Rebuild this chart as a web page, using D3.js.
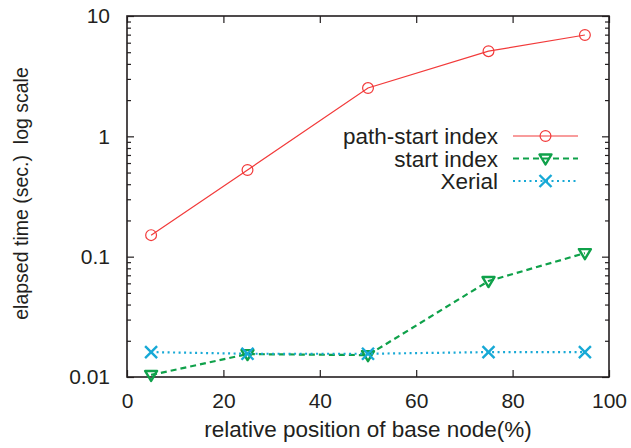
<!DOCTYPE html>
<html>
<head>
<meta charset="utf-8">
<script src="https://cdn.jsdelivr.net/npm/d3@7"></script>
<style>
  body { margin: 0; background: #fff; }
  text { font-family: "Liberation Sans", Arial, sans-serif; fill: #231f20; }
</style>
</head>
<body>
<div id="chart"></div>
<script>
// relative position of base node (%)
const positions = [5, 25, 50, 75, 95];

const pathStartIndex = [0.151, 0.525, 2.52, 5.1, 6.95];
const startIndex = [0.0104, 0.0155, 0.0152, 0.0627, 0.107];
const xerial = [0.0161, 0.0156, 0.0156, 0.0161, 0.0161];

const seriesNames = ["path-start index", "start index", "Xerial"];
const xTicks = [0, 20, 40, 60, 80, 100];
const yMajorTicks = [0.01, 0.1, 1, 10];

const width = 631, height = 448;
const margin = { top: 16, right: 22, bottom: 71, left: 127 };
const w = width - margin.left - margin.right;
const h = height - margin.top - margin.bottom;

const svg = d3.select("#chart").append("svg")
    .attr("width", width)
    .attr("height", height);

const g = svg.append("g")
    .attr("transform", `translate(${margin.left},${margin.top})`);

const x = d3.scaleLinear().domain([0, 100]).range([0, w]);
const y = d3.scaleLog().domain([0.01, 10]).range([h, 0]);

const yMinorTicks = y.ticks().filter(v => !yMajorTicks.some(m => Math.abs(m - v) < 1e-9));

// axes, ticks pointing inward
function styleAxis(sel) {
    sel.select(".domain").remove();
    sel.selectAll("line").attr("stroke", "#231f20").attr("stroke-width", 1.2);
    sel.selectAll("text").style("font-size", "21px").attr("fill", "#231f20");
}

g.append("g")
    .attr("transform", `translate(0,${h})`)
    .call(d3.axisBottom(x).tickValues(xTicks).tickSizeInner(-7).tickSizeOuter(0).tickPadding(16))
    .call(styleAxis);

g.append("g")
    .call(d3.axisTop(x).tickValues(xTicks).tickSizeInner(-7).tickSizeOuter(0).tickFormat(""))
    .call(styleAxis);

g.append("g")
    .call(d3.axisLeft(y).tickValues(yMajorTicks).tickSizeInner(-7).tickSizeOuter(0)
        .tickPadding(17).tickFormat(d3.format("~g")))
    .call(styleAxis);

g.append("g")
    .call(d3.axisLeft(y).tickValues(yMinorTicks).tickSizeInner(-4).tickSizeOuter(0).tickFormat(""))
    .call(styleAxis);

g.append("g")
    .attr("transform", `translate(${w},0)`)
    .call(d3.axisRight(y).tickValues(yMajorTicks).tickSizeInner(-7).tickSizeOuter(0).tickFormat(""))
    .call(styleAxis);

g.append("g")
    .attr("transform", `translate(${w},0)`)
    .call(d3.axisRight(y).tickValues(yMinorTicks).tickSizeInner(-4).tickSizeOuter(0).tickFormat(""))
    .call(styleAxis);

// frame
g.append("rect")
    .attr("width", w)
    .attr("height", h)
    .attr("fill", "none")
    .attr("stroke", "#231f20")
    .attr("stroke-width", 1.6);

const series = [
    { name: seriesNames[0], values: pathStartIndex, color: "#f23a3a", width: 1.2, dash: null, marker: "circle" },
    { name: seriesNames[1], values: startIndex, color: "#0fa14a", width: 2.2, dash: "6,4", marker: "triangle" },
    { name: seriesNames[2], values: xerial, color: "#17a9d6", width: 2.2, dash: "2,3.5", marker: "cross" }
];

const line = d3.line()
    .x(d => x(d.x))
    .y(d => y(d.y));

function drawMarker(sel, s, cx, cy) {
    if (s.marker === "circle") {
        sel.append("circle")
            .attr("cx", cx).attr("cy", cy).attr("r", 5.4)
            .attr("fill", "none").attr("stroke", s.color).attr("stroke-width", 1.2);
    } else if (s.marker === "triangle") {
        sel.append("path")
            .attr("d", `M${cx - 6},${cy - 4}L${cx + 6},${cy - 4}L${cx},${cy + 6}Z`)
            .attr("fill", "none").attr("stroke", s.color).attr("stroke-width", 2.4)
            .attr("stroke-linejoin", "round");
    } else {
        sel.append("path")
            .attr("d", `M${cx - 6},${cy - 6}L${cx + 6},${cy + 6}M${cx - 6},${cy + 6}L${cx + 6},${cy - 6}`)
            .attr("fill", "none").attr("stroke", s.color).attr("stroke-width", 2.4);
    }
}

series.forEach(s => {
    const pts = positions.map((p, i) => ({ x: p, y: s.values[i] }));
    g.append("path")
        .datum(pts)
        .attr("fill", "none")
        .attr("stroke", s.color)
        .attr("stroke-width", s.width)
        .attr("stroke-dasharray", s.dash)
        .attr("d", line);
    const mg = g.append("g");
    pts.forEach(d => drawMarker(mg, s, x(d.x), y(d.y)));
});

// legend
const legend = svg.append("g");
series.forEach((s, i) => {
    const ly = 136 + i * 22.5;
    legend.append("text")
        .attr("x", 498)
        .attr("y", ly)
        .attr("dy", "0.36em")
        .attr("text-anchor", "end")
        .style("font-size", "22.5px")
        .text(s.name);
    legend.append("line")
        .attr("x1", 513).attr("x2", 578)
        .attr("y1", ly).attr("y2", ly)
        .attr("stroke", s.color)
        .attr("stroke-width", s.width)
        .attr("stroke-dasharray", s.dash);
    drawMarker(legend, s, 545.5, ly);
});

// axis titles
svg.append("text")
    .attr("x", margin.left + w / 2)
    .attr("y", 437)
    .attr("text-anchor", "middle")
    .style("font-size", "22.5px")
    .text("relative position of base node(%)");

svg.append("text")
    .attr("transform", `translate(28,${margin.top + h / 2 - 3}) rotate(-90)`)
    .attr("text-anchor", "middle")
    .style("font-size", "19.5px")
    .style("white-space", "pre")
    .text("elapsed time (sec.)  log scale");
</script>
</body>
</html>
